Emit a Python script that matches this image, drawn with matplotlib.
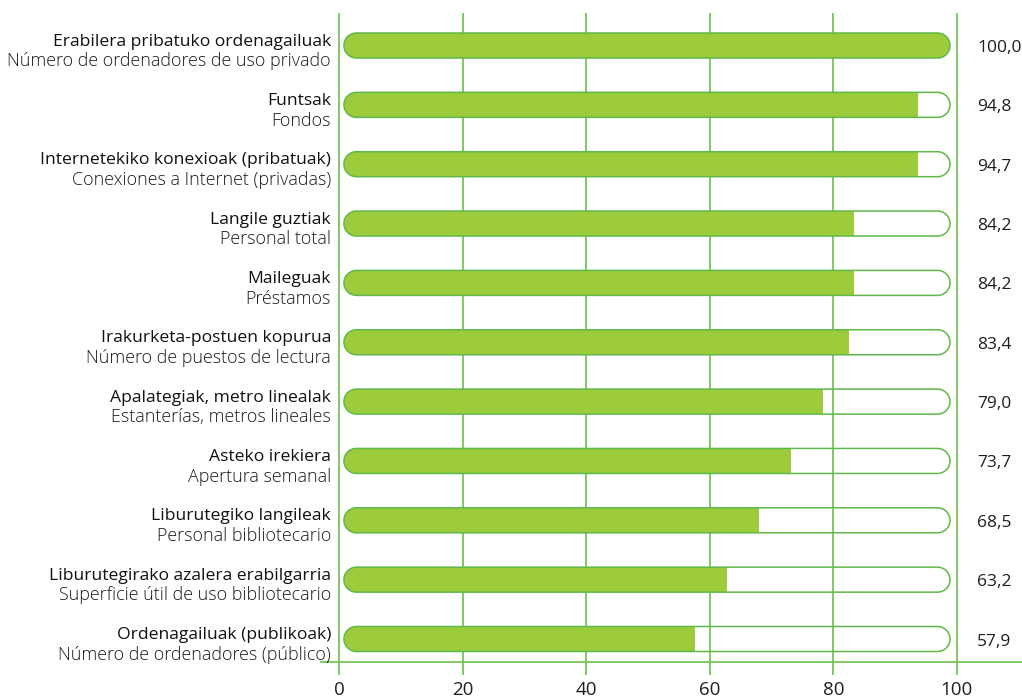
import numpy as np
import matplotlib
matplotlib.use("Agg")
import matplotlib.pyplot as plt
from matplotlib.patches import Polygon

# ── Data ────────────────────────────────────────────────────────────────
labels_eu = ["Erabilera pribatuko ordenagailuak", "Funtsak",
             "Internetekiko konexioak (pribatuak)", "Langile guztiak",
             "Maileguak", "Irakurketa-postuen kopurua",
             "Apalategiak, metro linealak", "Asteko irekiera",
             "Liburutegiko langileak", "Liburutegirako azalera erabilgarria",
             "Ordenagailuak (publikoak)"]
labels_es = ["Número de ordenadores de uso privado", "Fondos",
             "Conexiones a Internet (privadas)", "Personal total",
             "Préstamos", "Número de puestos de lectura",
             "Estanterías, metros lineales", "Apertura semanal",
             "Personal bibliotecario", "Superficie útil de uso bibliotecario",
             "Número de ordenadores (público)"]
values = [100.0, 94.8, 94.7, 84.2, 84.2, 83.4, 79.0, 73.7, 68.5, 63.2, 57.9]
xticks = [0, 20, 40, 60, 80, 100]

# ── Style ───────────────────────────────────────────────────────────────
FILL = "#9ccc3c"
EDGE = "#5eb94a"
GRID = "#6cc04e"
TXT = "#1e1e1e"
plt.rcParams["font.family"] = ["Open Sans", "DejaVu Sans"]

W, H = 1022, 698
fig = plt.figure(figsize=(W / 100, H / 100), dpi=100)
ax_l, ax_r, ax_t, ax_b = 321, 1022, 13, 662
ax = fig.add_axes([ax_l / W, 1 - ax_b / H, (ax_r - ax_l) / W, (ax_b - ax_t) / H])

px_x = 6.175          # pixels per x unit
x0_px = 339.3         # pixel of x = 0
px_y = 59.35          # pixels per category
y0_px = 45.5          # pixel centre of first bar
ax.set_xlim((ax_l - x0_px) / px_x, (ax_r - x0_px) / px_x)
ax.set_ylim((ax_b - y0_px) / px_y, (ax_t - y0_px) / px_y)

# capsule geometry (track inset slightly inside 0..100)
cap_lo, cap_hi = 0.75, 98.9
bar_h = 25 / px_y
rx = 12.5 / px_x
ry = bar_h / 2
t = np.linspace(-np.pi / 2, np.pi / 2, 40)


def capsule(yc):
    right = np.column_stack([cap_hi - rx + rx * np.cos(t), yc + ry * np.sin(t)])
    left = np.column_stack([cap_lo + rx - rx * np.cos(t), yc - ry * np.sin(t)])
    return Polygon(np.vstack([right, left]), closed=True)


ax.set_axisbelow(True)
ax.grid(axis="x", color=GRID, lw=1.2)
ax.set_xticks(xticks)
ax.set_xticklabels([str(v) for v in xticks], fontsize=13.5, color=TXT)
ax.tick_params(axis="x", length=9.5, width=1.2, color=GRID, pad=4)
ax.set_yticks([])
for s in ["top", "left", "right"]:
    ax.spines[s].set_visible(False)
ax.spines["bottom"].set_color(GRID)
ax.spines["bottom"].set_linewidth(1.2)

scale = (cap_hi - cap_lo) / 100
for i, v in enumerate(values):
    track = capsule(i)
    track.set(facecolor="none", edgecolor=EDGE, lw=1.1, zorder=4)
    ax.add_patch(track)
    bars = ax.barh(i, v * scale, left=cap_lo, height=bar_h,
                   color=FILL, lw=0, zorder=3)
    for b in bars:
        b.set_clip_path(track)

    # Basque line a touch heavier than the Spanish one
    ax.text(-1.35, i, labels_eu[i], ha="right", va="baseline",
            fontsize=12.6, color="#111111", clip_on=False)
    ax.text(-1.35, i + 0.35, labels_es[i], ha="right", va="baseline",
            fontsize=12.9, fontweight="light", color="#1a1a1a", clip_on=False)
    ax.text(103.3, i + 0.11, f"{v:.1f}".replace(".", ","), ha="left",
            va="baseline", fontsize=12.5, color=TXT)

fig.savefig("out.png", dpi=100)
